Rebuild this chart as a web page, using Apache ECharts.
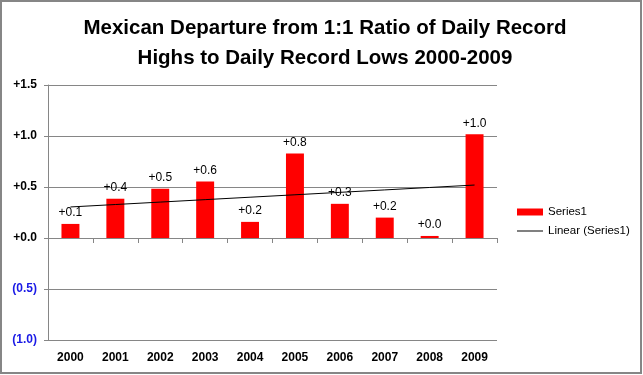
<!DOCTYPE html>
<html>
<head>
<meta charset="utf-8">
<script src="https://cdn.jsdelivr.net/npm/echarts@6/dist/echarts.min.js"></script>
<style>
  html, body { margin: 0; padding: 0; background: #fff; }
  #chart { width: 643px; height: 375px; }
</style>
</head>
<body>
<div id="chart"></div>
<script>
// values
var years = ['2000', '2001', '2002', '2003', '2004', '2005', '2006', '2007', '2008', '2009'];
var departure = [0.138, 0.385, 0.483, 0.555, 0.158, 0.828, 0.335, 0.2, 0.02, 1.016];
var yTicks = [-1.0, -0.5, 0.0, 0.5, 1.0, 1.5];

// linear trend (least squares), as Excel's "Linear (Series1)"
var n = departure.length, sx = 0, sy = 0, sxy = 0, sxx = 0;
for (var i = 0; i < n; i++) {
  sx += i; sy += departure[i]; sxy += i * departure[i]; sxx += i * i;
}
var slope = (n * sxy - sx * sy) / (n * sxx - sx * sx);
var icpt = (sy - slope * sx) / n;
var trend = years.map(function (y, i) { return +(icpt + slope * i).toFixed(4); });

var myChart = echarts.init(document.getElementById('chart'));

var option = {
  backgroundColor: '#fff',
  animation: false,
  title: {
    text: 'Mexican Departure from 1:1 Ratio of Daily Record\nHighs to Daily Record Lows 2000-2009',
    left: 320,
    textAlign: 'center',
    top: 8,
    textStyle: {
      fontFamily: 'Liberation Sans',
      fontWeight: 'bold',
      fontSize: 20.5,
      lineHeight: 30,
      color: '#000'
    }
  },
  graphic: [{
    type: 'rect',
    shape: { x: 1, y: 1, width: 640, height: 372 },
    style: { fill: 'none', stroke: '#868686', lineWidth: 2 },
    silent: true
  }],
  legend: {
    orient: 'vertical',
    left: 512,
    top: 201,
    itemWidth: 26,
    itemHeight: 7,
    itemGap: 7,
    textStyle: { fontFamily: 'Liberation Sans', fontSize: 11.5, color: '#000' },
    data: [
      { name: 'Series1', icon: 'rect' },
      { name: 'Linear (Series1)', icon: 'path://M0,0 H26 V1 H0 Z', itemStyle: { color: '#000' } }
    ]
  },
  grid: { left: 48, right: 146, top: 85, bottom: 35 },
  xAxis: [{
    type: 'category',
    data: years,
    axisLine: { onZero: true, lineStyle: { color: '#868686', width: 1 } },
    axisTick: { show: true, length: 5, lineStyle: { color: '#868686' } },
    axisLabel: { show: false }
  }, {
    type: 'category',
    data: years,
    position: 'bottom',
    axisLine: { show: false, onZero: false },
    axisTick: { show: false },
    axisLabel: {
      margin: 12,
      fontFamily: 'Liberation Sans',
      fontWeight: 'bold',
      fontSize: 12,
      color: '#000'
    }
  }],
  yAxis: {
    type: 'value',
    min: -1.0,
    max: 1.5,
    interval: 0.5,
    axisLine: { show: true, lineStyle: { color: '#868686' } },
    axisTick: { show: true, length: 4, lineStyle: { color: '#868686' } },
    splitLine: { lineStyle: { color: '#868686', width: 1 } },
    axisLabel: {
      margin: 11,
      fontFamily: 'Liberation Sans',
      fontWeight: 'bold',
      fontSize: 12,
      color: '#000',
      formatter: function (v) {
        if (v < 0) return '{neg|(' + Math.abs(v).toFixed(1) + ')}';
        return '+' + v.toFixed(1);
      },
      rich: {
        neg: { color: '#1a1ae6', fontFamily: 'Liberation Sans', fontWeight: 'bold', fontSize: 12 }
      }
    }
  },
  series: [{
    name: 'Series1',
    type: 'bar',
    xAxisIndex: 0,
    data: departure,
    barWidth: '40%',
    itemStyle: { color: '#ff0000' },
    label: {
      show: true,
      position: 'top',
      distance: 5,
      fontFamily: 'Liberation Sans',
      fontSize: 12,
      color: '#000',
      formatter: function (p) { return '+' + p.value.toFixed(1); }
    }
  }, {
    name: 'Linear (Series1)',
    type: 'line',
    xAxisIndex: 0,
    data: trend,
    symbol: 'none',
    lineStyle: { color: '#000', width: 1 },
    z: 5
  }]
};

myChart.setOption(option);
</script>
</body>
</html>
